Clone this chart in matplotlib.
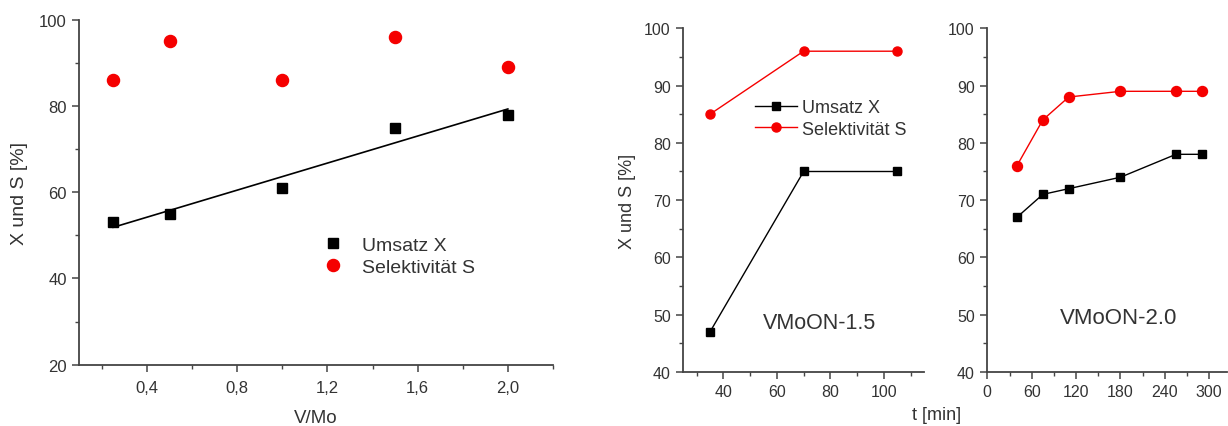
import numpy as np
import matplotlib
matplotlib.use("Agg")
import matplotlib.pyplot as plt

plt.rcParams['font.family'] = ['Liberation Sans', 'DejaVu Sans']

# Panel 1: V/Mo-Verhältnis
vmo = [0.25, 0.5, 1.0, 1.5, 2.0]
umsatz_vmo = [53, 55, 61, 75, 78]
selek_vmo = [86, 95, 86, 96, 89]

# Panel 2: VMoON-1.5, Zeitverlauf
t_15 = [35, 70, 105]
umsatz_15 = [47, 75, 75]
selek_15 = [85, 96, 96]

# Panel 3: VMoON-2.0, Zeitverlauf
t_20 = [40, 75, 110, 180, 255, 290]
umsatz_20 = [67, 71, 72, 74, 78, 78]
selek_20 = [76, 84, 88, 89, 89, 89]

RED = '#f50000'
AX_COL = '#444444'
TXT_COL = '#333333'


def style_axis(ax, ticksize):
    for s in ['top', 'right']:
        ax.spines[s].set_visible(False)
    for s in ['left', 'bottom']:
        ax.spines[s].set_color(AX_COL)
        ax.spines[s].set_linewidth(1.3)
    ax.tick_params(which='major', direction='out', length=5, width=1.1, pad=4,
                   color=AX_COL, labelcolor=TXT_COL, labelsize=ticksize)
    ax.tick_params(which='minor', direction='out', length=3, width=1.0,
                   color=AX_COL)


fig = plt.figure(figsize=(12.28, 4.27), dpi=100)

# ---- Panel 1
ax1 = fig.add_axes([0.0646, 0.1436, 0.3857, 0.8079])
ax1.plot(vmo, umsatz_vmo, 's', color='black', ms=7.3, label='Umsatz X', zorder=3)
ax1.plot(vmo, selek_vmo, 'o', color=RED, ms=8.7, label='Selektivität S', zorder=3)
k, d = np.polyfit(vmo, umsatz_vmo, 1)
xf = np.array([vmo[0], vmo[-1]])
ax1.plot(xf, k * xf + d, '-', color='black', lw=1.2)
ax1.set_xlim(0.1, 2.2)
ax1.set_ylim(20, 100)
ax1.set_xticks([0.4, 0.8, 1.2, 1.6, 2.0])
ax1.set_xticklabels(['0,4', '0,8', '1,2', '1,6', '2,0'])
ax1.set_xticks([0.2, 0.6, 1.0, 1.4, 1.8, 2.2], minor=True)
ax1.set_yticks([20, 40, 60, 80, 100])
ax1.set_yticks([30, 50, 70, 90], minor=True)
style_axis(ax1, 12)
ax1.tick_params(axis='x', which='major', pad=6)
ax1.set_xlabel('V/Mo', fontsize=13.5, color=TXT_COL, labelpad=10)
ax1.set_ylabel('X und S [%]', fontsize=14, color=TXT_COL, labelpad=8)
ax1.legend(loc='center left', bbox_to_anchor=(0.516, 0.3145), frameon=False,
           fontsize=14, handlelength=1.0, handletextpad=0.95, labelspacing=0.25,
           borderaxespad=0, borderpad=0, labelcolor=TXT_COL)

# ---- Panel 2
ax2 = fig.add_axes([0.5564, 0.1265, 0.196, 0.8049])
ax2.plot(t_15, umsatz_15, 's-', color='black', ms=5.5, lw=1.0, label='Umsatz X')
ax2.plot(t_15, selek_15, 'o-', color=RED, ms=6.5, lw=1.0, label='Selektivität S')
ax2.set_xlim(25, 115)
ax2.set_ylim(40, 100)
ax2.set_xticks([40, 60, 80, 100])
ax2.set_xticks([30, 50, 70, 90, 110], minor=True)
ax2.set_yticks(range(40, 101, 10))
ax2.set_yticks(range(45, 100, 10), minor=True)
style_axis(ax2, 11.5)
ax2.set_ylabel('X und S [%]', fontsize=13, color=TXT_COL, labelpad=6)
ax2.text(76, 48.7, 'VMoON-1.5', fontsize=15.5, color=TXT_COL, ha='center', va='center')
ax2.legend(loc='center left', bbox_to_anchor=(0.298, 0.7377), frameon=False,
           fontsize=13, handlelength=2.3, handletextpad=0.28, labelspacing=0.25,
           borderaxespad=0, borderpad=0, labelcolor=TXT_COL)

# ---- Panel 3
ax3 = fig.add_axes([0.804, 0.1265, 0.1952, 0.8049])
ax3.plot(t_20, umsatz_20, 's-', color='black', ms=6.3, lw=1.0)
ax3.plot(t_20, selek_20, 'o-', color=RED, ms=7.2, lw=1.0)
ax3.set_xlim(0, 324)
ax3.set_ylim(40, 100)
ax3.set_xticks(range(0, 301, 60))
ax3.set_xticks(range(30, 321, 60), minor=True)
ax3.set_yticks(range(40, 101, 10))
ax3.set_yticks(range(45, 100, 10), minor=True)
style_axis(ax3, 11.5)
ax3.text(177, 49.5, 'VMoON-2.0', fontsize=16, color=TXT_COL, ha='center', va='center')

fig.text(0.763, 0.008, 't [min]', fontsize=13, color=TXT_COL, ha='center', va='bottom')

fig.savefig('out.png', dpi=100)
